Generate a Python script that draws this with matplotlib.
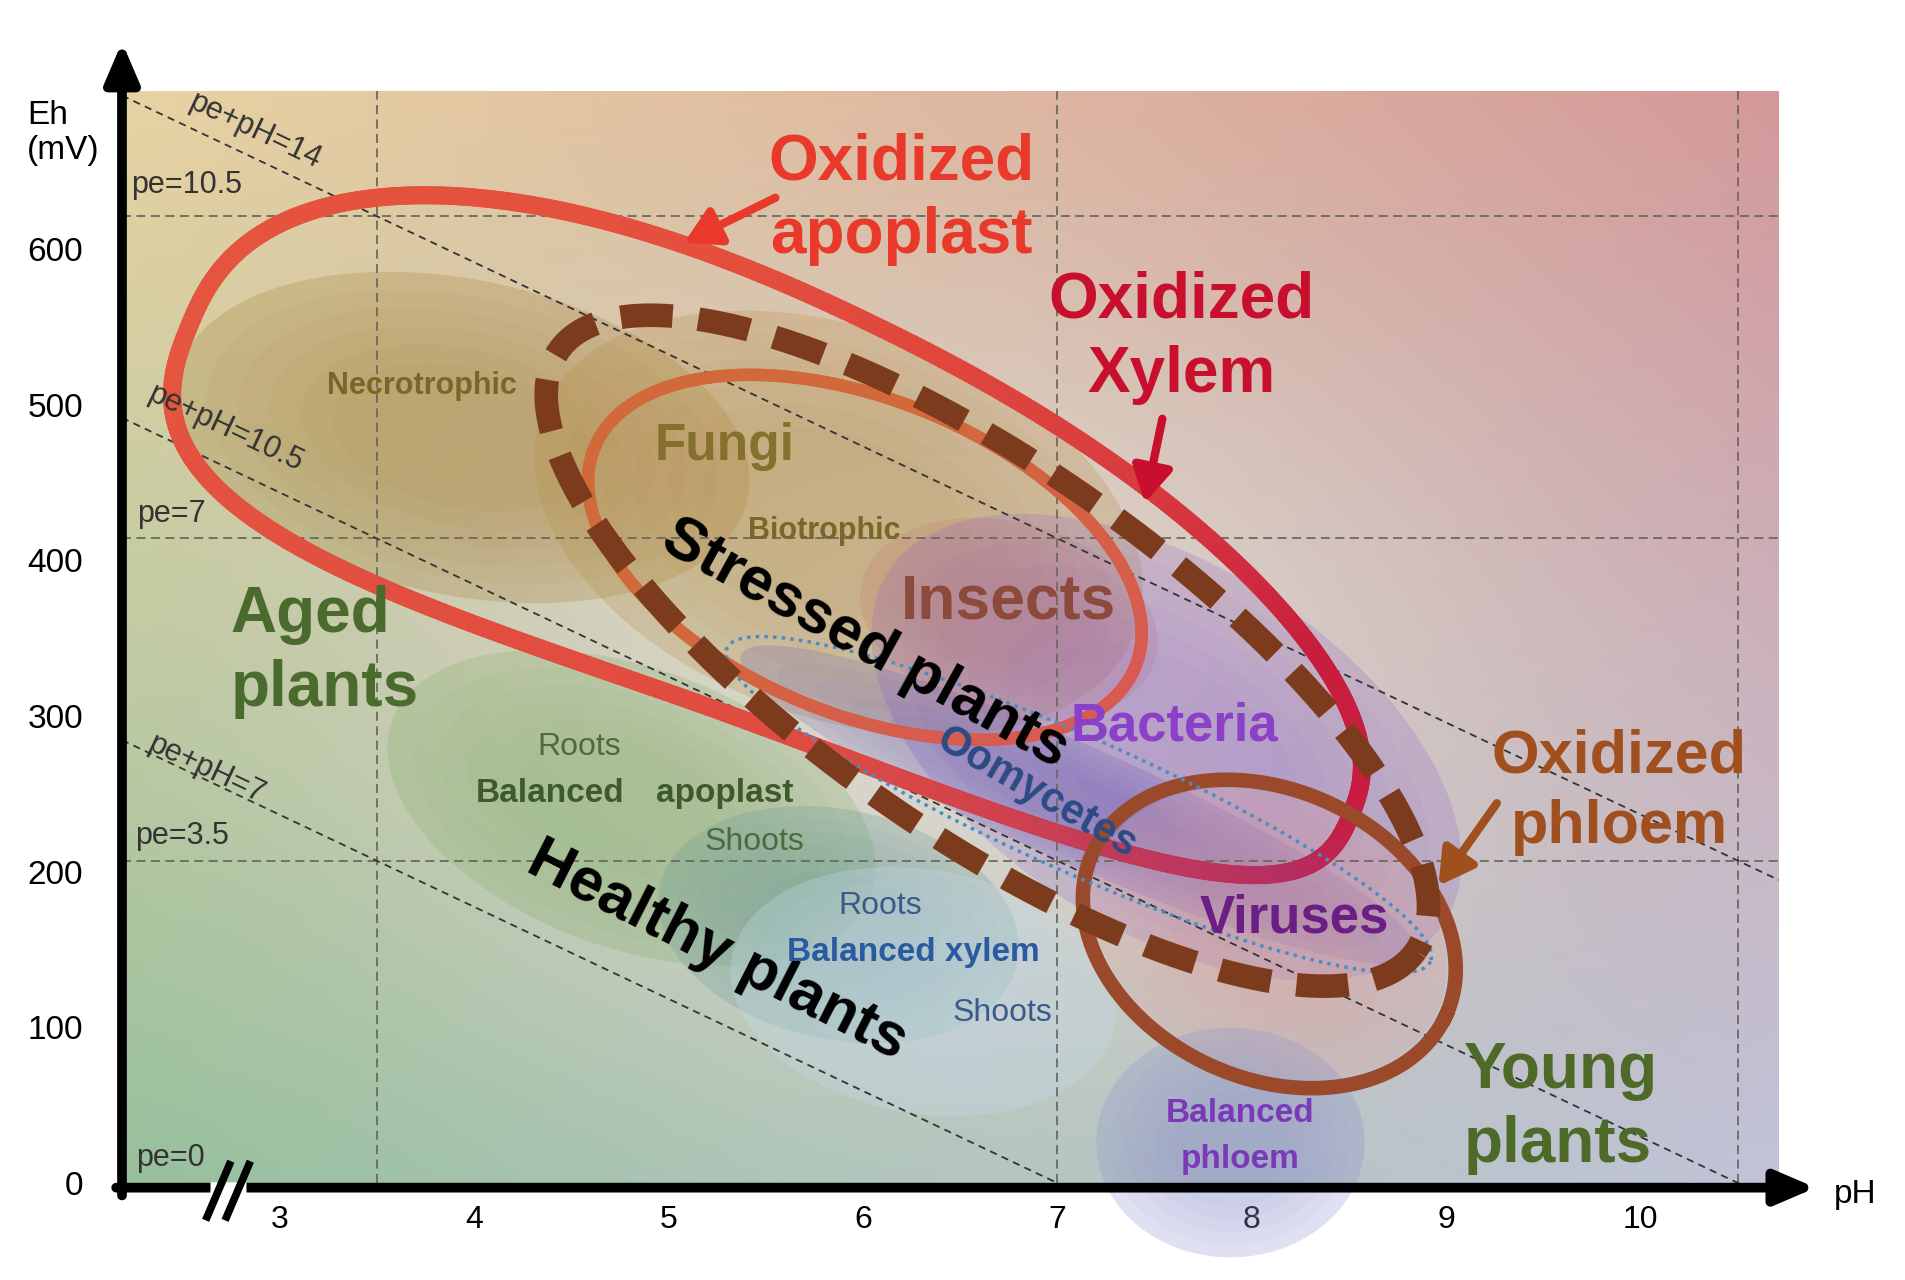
import numpy as np
import matplotlib.pyplot as plt
from matplotlib.collections import LineCollection
from matplotlib.colors import to_rgb

plt.rcParams['font.family'] = ['Liberation Sans', 'DejaVu Sans']

# ---------------------------------------------------------------- data
ph_ticks = [3, 4, 5, 6, 7, 8, 9, 10]
eh_ticks = [0, 100, 200, 300, 400, 500, 600]
ph_lim = (2.19, 10.71)
eh_lim = (0, 701.6)

MV_PER_PE = 59.16                 # Eh (mV) = 59.16 * pe
pe_levels = [0, 3.5, 7, 10.5]
pe_labels = ['pe=0', 'pe=3.5', 'pe=7', 'pe=10.5']
ph_guides = [3.5, 7, 10.5]
pe_ph_sums = [14, 10.5, 7]
pe_ph_labels = ['pe+pH=14', 'pe+pH=10.5', 'pe+pH=7']

# outlined zones: centre (pH, Eh in mV), half axes in pH units, tilt (deg)
ring_names = ['Oxidized apoplast', 'Fungi/Insects', 'Stressed plants',
              'Oxidized phloem', 'Oomycetes']
ring_ph = [5.55, 6.01, 6.64, 8.09, 7.11]
ring_eh = [402, 402, 342, 160, 243]
ring_a = [3.24, 1.50, 2.69, 1.00, 1.98]
ring_b = [1.07, 0.81, 0.94, 0.74, 0.344]
ring_tilt = [22.3, 22, 35, 25, 24]
# the apoplast zone is a bent, blunt-ended oval
apo_power = 2.6
apo_taper = 0.16
apo_bend = (-0.229, 0.026, 0.304)

# shaded zones
blob_names = ['Necrotrophic', 'Biotrophic', 'Insects', 'Bacteria', 'Oomycetes',
              'Viruses', 'Balanced apoplast', 'Balanced xylem', 'Xylem shoots',
              'Balanced phloem']
blob_ph = [3.94, 5.875, 6.75, 7.56, 7.11, 8.09, 4.81, 5.875, 6.31, 7.89]
blob_eh = [479, 424, 362, 280, 243, 160, 241, 166, 123, 26]
blob_a = [1.5, 1.625, 0.78, 1.69, 1.9, 0.95, 1.31, 0.94, 1.0, 0.69]
blob_b = [0.81, 1.0, 0.5, 0.94, 0.30, 0.70, 0.72, 0.59, 0.625, 0.59]
blob_tilt = [12, 20, 15, 32, 24, 25, 20, 12, 10, 0]
blob_colors = ['#a27a30', '#b58a3e', '#c4706a', '#9468c8', '#5a4cb8',
               '#e29c98', '#86b06c', '#6a9c9c', '#c6dcec', '#8c90cc']
blob_alpha = [0.45, 0.45, 0.35, 0.45, 0.35, 0.45, 0.5, 0.5, 0.55, 0.5]

MV_PER_PH = 125.0   # visual aspect of the panel: 1 pH unit looks as long as 125 mV


def zone(cx, cy, a, b, tilt, p=2.0, taper=0.0, bend=(0, 0, 0), n=361):
    t = np.linspace(0, 2 * np.pi, n)
    c, s = np.cos(t), np.sin(t)
    x = np.sign(c) * np.abs(c) ** (2 / p)
    v = np.sign(s) * np.abs(s) ** (2 / p)
    u = a * x
    w = b * v * (1 - taper * x) + bend[0] + bend[1] * x + bend[2] * x ** 2
    th = np.radians(tilt)
    px = cx + u * np.cos(th) - w * np.sin(th)
    py = cy - (u * np.sin(th) + w * np.cos(th)) * MV_PER_PH
    return px, py


def gradient_ring(ax, x, y, stops, colors, lw, z):
    pts = np.column_stack([x, y]).reshape(-1, 1, 2)
    segs = np.concatenate([pts[:-1], pts[1:]], axis=1)
    f = (np.arange(len(segs)) + 0.5) / len(segs)
    rgb = np.array([to_rgb(c) for c in colors])
    cols = np.column_stack([np.interp(f, stops, rgb[:, k]) for k in range(3)])
    lc = LineCollection(segs, colors=cols, linewidths=lw, capstyle='round',
                        joinstyle='round', zorder=z)
    ax.add_collection(lc)


fig = plt.figure(figsize=(19.06, 12.80), dpi=100)
ax = fig.add_axes([122 / 1906, 1 - 1183 / 1280, 1656.8 / 1906, 1092 / 1280])
ax.set_xlim(*ph_lim)
ax.set_ylim(*eh_lim)
for s in ax.spines.values():
    s.set_visible(False)
ax.set_axisbelow(True)

# background wash
H, W = 240, 360
yy, xx = np.mgrid[0:1:H * 1j, 0:1:W * 1j]
tl, tr = np.array(to_rgb('#e8d3a2')), np.array(to_rgb('#d4999a'))
bl, br = np.array(to_rgb('#96c09c')), np.array(to_rgb('#c0c3d8'))
img = ((1 - xx)[..., None] * (1 - yy)[..., None] * tl + xx[..., None] * (1 - yy)[..., None] * tr
       + (1 - xx)[..., None] * yy[..., None] * bl + xx[..., None] * yy[..., None] * br)
w = 0.6 * np.exp(-((xx - 0.5) ** 2 / 0.10 + (yy - 0.55) ** 2 / 0.12))[..., None]
img = img * (1 - w) + w * np.array(to_rgb('#eee9e2'))
ax.imshow(img, extent=[ph_lim[0], ph_lim[1], eh_lim[0], eh_lim[1]], origin='upper',
          aspect='auto', zorder=0)

# shaded zones (layered for a soft edge)
for i in range(len(blob_names)):
    clip = blob_names[i] != 'Balanced phloem'
    for k, s in enumerate(np.linspace(1.0, 0.45, 6)):
        x, y = zone(blob_ph[i], blob_eh[i], blob_a[i] * s, blob_b[i] * s, blob_tilt[i])
        al = blob_alpha[i] * (0.55 if k == 0 else 0.12)
        ax.fill(x, y, color=blob_colors[i], alpha=al, lw=0, zorder=1, clip_on=clip)

# guide lines
for pe in pe_levels[1:]:
    ax.axhline(pe * MV_PER_PE, color='#6c6a5e', lw=1.3, ls=(0, (5, 3)), zorder=2)
for ph in ph_guides:
    ax.axvline(ph, color='#6c6a5e', lw=1.3, ls=(0, (5, 3)), zorder=2)
xs = np.linspace(ph_lim[0], ph_lim[1], 200)
for s in pe_ph_sums:
    ax.plot(xs, (s - xs) * MV_PER_PE, color='#333333', lw=1.3, ls=(0, (4, 3)), zorder=2)

slope_ang = -np.degrees(np.arctan(MV_PER_PE / MV_PER_PH))
for lab, (px, py) in zip(pe_ph_labels, [(2.875, 676), (2.72, 485), (2.625, 266)]):
    ax.text(px, py, lab, rotation=slope_ang, rotation_mode='anchor', ha='center',
            va='center', fontsize=22, color='#333333', zorder=4)
for lab, (px, py) in zip(pe_labels, [(2.26, 16), (2.255, 223), (2.27, 430), (2.237, 641)]):
    ax.text(px, py, lab, ha='left', va='center', fontsize=22, color='#333333', zorder=4)

# outlined zones
x, y = zone(ring_ph[0], ring_eh[0], ring_a[0], ring_b[0], ring_tilt[0],
            apo_power, apo_taper, apo_bend, 720)
gradient_ring(ax, x, y,
              [0.0, 0.07, 0.15, 0.24, 0.5, 0.72, 0.82, 0.9, 1.0],
              ['#c81d40', '#b42f62', '#c23a5a', '#e04c40', '#e5553f', '#e4503d',
               '#d83a3e', '#c81e3e', '#c81d40'], 13, 3)
x, y = zone(ring_ph[1], ring_eh[1], ring_a[1], ring_b[1], ring_tilt[1], n=540)
gradient_ring(ax, x, y, [0.0, 0.2, 0.35, 0.75, 0.9, 1.0],
              ['#d85a52', '#d65c4c', '#d2693a', '#d2693a', '#d65f48', '#d85a52'], 9, 3.1)
x, y = zone(ring_ph[3], ring_eh[3], ring_a[3], ring_b[3], ring_tilt[3])
ax.plot(x, y, color='#9a4a2a', lw=10.5, zorder=3.2)
x, y = zone(ring_ph[4], ring_eh[4], ring_a[4], ring_b[4], ring_tilt[4])
ax.plot(x, y, color='#4a8cc4', lw=2.5, ls=(0, (1, 1.5)), zorder=3.3)
x, y = zone(ring_ph[2], ring_eh[2], ring_a[2], ring_b[2], ring_tilt[2])
ax.plot(x, y, color='#7c3b1d', lw=17, ls=(0, (2.2, 1.1)), dash_capstyle='butt', zorder=3.4)

# big labels
big = dict(va='center', fontweight='bold', zorder=5, linespacing=1.3)
ax.text(6.2, 632, 'Oxidized\napoplast', color='#e8392b', fontsize=46, ha='center', **big)
ax.text(7.64, 543, 'Oxidized\nXylem', color='#c8102e', fontsize=46, ha='center', **big)
ax.text(9.89, 251, 'Oxidized\nphloem', color='#a0501e', fontsize=44, ha='center', **big)
ax.text(9.09, 48, 'Young\nplants', color='#4e6a28', fontsize=46, ha='left', **big)
ax.text(2.75, 341, 'Aged\nplants', color='#4b6b2e', fontsize=46, ha='left', **big)
big['linespacing'] = 1.15
ax.text(6.01, 346, 'Stressed plants', color='black', fontsize=44, rotation=-29,
        rotation_mode='anchor', ha='center', **big)
ax.text(5.25, 149, 'Healthy plants', color='black', fontsize=44, rotation=-27,
        rotation_mode='anchor', ha='center', **big)
ax.text(5.29, 473, 'Fungi', color='#85702e', fontsize=37, ha='center', **big)
ax.text(6.75, 373, 'Insects', color='#8b4a3c', fontsize=45, ha='center', **big)
ax.text(7.6, 293, 'Bacteria', color='#8a40c8', fontsize=38, ha='center', **big)
ax.text(6.89, 251, 'Oomycetes', color='#2c4a84', fontsize=30, rotation=-30,
        rotation_mode='anchor', ha='center', **big)
ax.text(8.22, 170, 'Viruses', color='#6a1e86', fontsize=38, ha='center', **big)

small = dict(ha='center', va='center', zorder=5)
ax.text(3.73, 512, 'Necrotrophic', color='#7a6628', fontsize=22, fontweight='bold', **small)
ax.text(5.8, 419, 'Biotrophic', color='#7a6628', fontsize=22, fontweight='bold', **small)
ax.text(4.54, 280, 'Roots', color='#4e6a40', fontsize=23, **small)
ax.text(4.39, 250, 'Balanced', color='#3e5a2a', fontsize=24, fontweight='bold', **small)
ax.text(5.29, 250, 'apoplast', color='#3e5a2a', fontsize=24, fontweight='bold', **small)
ax.text(5.44, 219, 'Shoots', color='#4e6a40', fontsize=23, **small)
ax.text(6.09, 178, 'Roots', color='#3a5a8a', fontsize=23, **small)
ax.text(6.26, 148, 'Balanced xylem', color='#2a5aa0', fontsize=24, fontweight='bold', **small)
ax.text(6.72, 109, 'Shoots', color='#3a5a8a', fontsize=23, **small)
ax.text(7.94, 30, 'Balanced\nphloem', color='#7a3ab8', fontsize=24, fontweight='bold',
        linespacing=1.65, **small)

# pointer arrows
for (x0, y0), (x1, y1), c in [((5.55, 633), (5.08, 604), '#e8392b'),
                              ((7.54, 491), (7.45, 437), '#c8102e'),
                              ((9.26, 244), (8.96, 191), '#a0501e')]:
    ax.annotate('', xy=(x1, y1), xytext=(x0, y0), zorder=5,
                arrowprops=dict(arrowstyle='-|>,head_length=0.7,head_width=0.4',
                                color=c, lw=6, shrinkA=0, shrinkB=0, mutation_scale=30))

# axes with arrow heads and a break mark
axis_arrow = dict(arrowstyle='-|>,head_length=0.7,head_width=0.3', color='black', lw=7,
                  shrinkA=0, shrinkB=0, mutation_scale=34)
ax.annotate('', xy=(ph_lim[0], 733), xytext=(ph_lim[0], -8), arrowprops=axis_arrow,
            annotation_clip=False, zorder=6)
ax.annotate('', xy=(10.9, -3), xytext=(ph_lim[0] - 0.03, -3), arrowprops=axis_arrow,
            annotation_clip=False, zorder=6)
ax.plot([2.64, 2.83], [-3, -3], color='white', lw=9, solid_capstyle='butt',
        clip_on=False, zorder=6.1)
for dx in [0, 0.1]:
    ax.plot([2.62 + dx, 2.75 + dx], [-24, 14], color='black', lw=5.5,
            solid_capstyle='butt', clip_on=False, zorder=6.2)

ax.set_xticks(ph_ticks)
ax.set_xticklabels([str(v) for v in ph_ticks])
ax.set_yticks(eh_ticks)
ax.set_yticklabels([str(v) for v in eh_ticks])
ax.tick_params(axis='x', length=0, pad=16, labelsize=23)
ax.tick_params(axis='y', length=0, pad=28, labelsize=24)

fig.text(27 / 1906, 1 - 133 / 1280, 'Eh\n(mV)', ha='left', va='center', fontsize=24)
fig.text(1834 / 1906, 1 - 1194 / 1280, 'pH', ha='left', va='center', fontsize=24)

fig.savefig('out.png', dpi=100)
